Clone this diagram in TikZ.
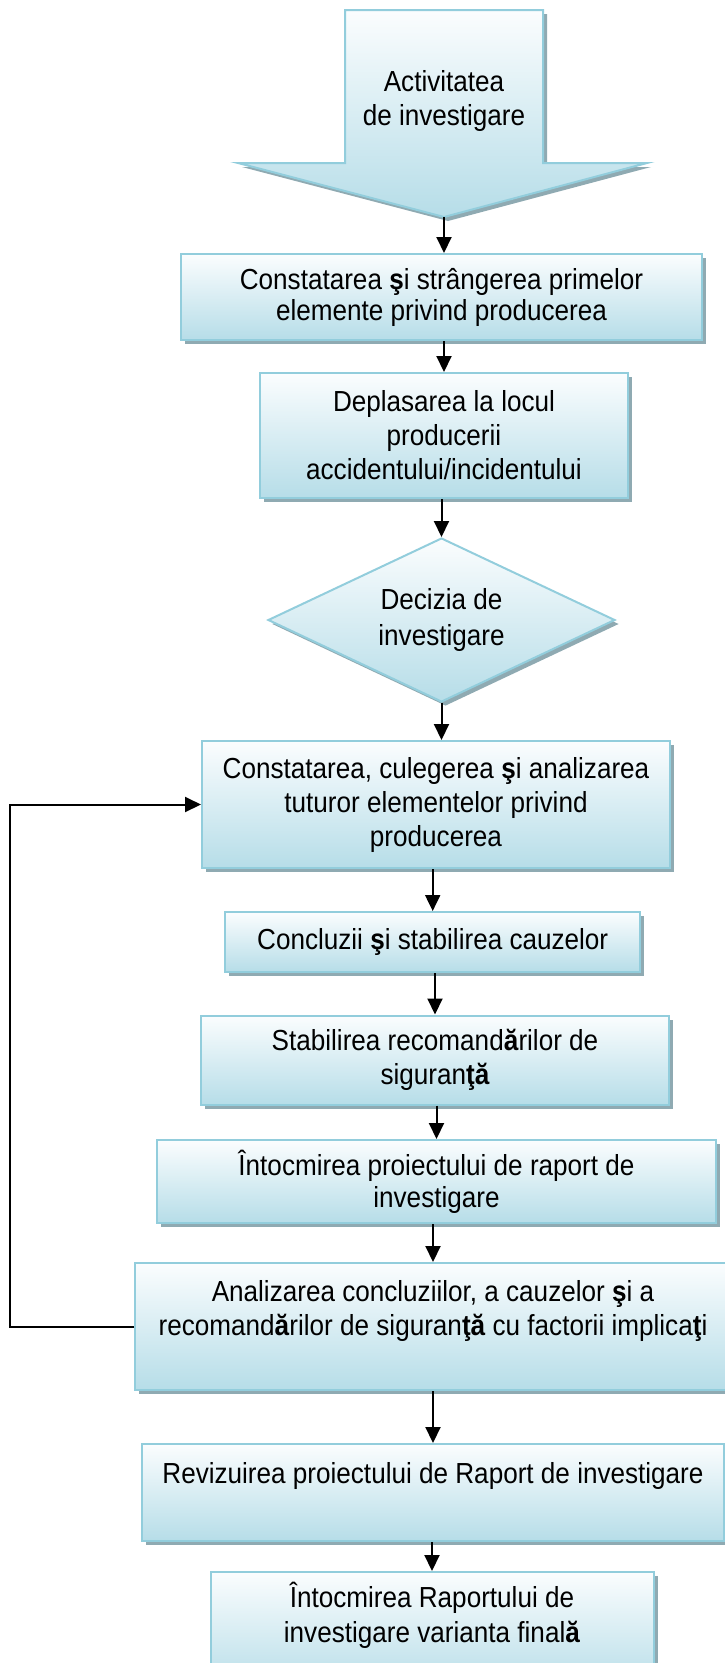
\documentclass[tikz,border=0pt]{standalone}
\usepackage{fontspec}
\setmainfont{Liberation Sans}[FakeStretch=0.9]
\usetikzlibrary{arrows.meta,shapes.geometric,shadows}
\definecolor{boxline}{RGB}{146,205,220}
\definecolor{boxtop}{RGB}{251,253,254}
\definecolor{boxbot}{RGB}{182,221,232}
\definecolor{shadowc}{RGB}{143,170,178}
\newcommand{\bs}[1]{\textbf{#1}}
\newcommand{\flowfont}[1]{\fontsize{29}{#1}\selectfont}
\begin{document}
\begin{tikzpicture}[x=1pt,y=-1pt,
  flow/.style={draw=boxline, line width=2pt, top color=boxtop, bottom color=boxbot,
    inner sep=0pt, align=center, font=\flowfont{34},
    drop shadow={shadow xshift=4pt, shadow yshift=-4pt, fill=shadowc, opacity=1}},
  txt/.style={inner sep=0pt, align=center, font=\flowfont{34}},
  conn/.style={line width=2pt, -{Triangle[length=16pt,width=15pt]}}]
\useasboundingbox (0,0) rectangle (725,1663);
\clip (0,0) rectangle (725,1663);

% big block arrow
\fill[shadowc] (349,14) -- (547,14) -- (547,167) -- (651,167) -- (448,221) -- (242,167) -- (349,167) -- cycle;
\path[draw=boxline, line width=2pt, top color=boxtop, bottom color=boxbot]
  (345,10) -- (543,10) -- (543,163) -- (647,163) -- (444,217) -- (238,163) -- (345,163) -- cycle;
\node[txt] (act) at (444,100.5) {Activitatea\\de investigare};
\coordinate (tip) at (444,217);

\node[flow, minimum width=521pt, minimum height=86pt, font=\flowfont{31}] (b1) at (441.5,297)
  {Constatarea \bs{ş}i strângerea primelor\\elemente privind producerea};
\node[flow, minimum width=368pt, minimum height=125pt] (b2) at (444,435.5)
  {Deplasarea la locul\\producerii\\accidentului/incidentului};
\node[flow, diamond, aspect=2.116, minimum width=347pt, minimum height=164pt, font=\flowfont{36}] (d) at (441.5,620)
  {Decizia de\\investigare};
\node[flow, minimum width=468pt, minimum height=127pt] (b3) at (436,804.5)
  {Constatarea, culegerea \bs{ş}i analizarea\\tuturor elementelor privind\\producerea};
\node[flow, minimum width=415.5pt, minimum height=60pt] (b4) at (432.7,942)
  {Concluzii \bs{ş}i stabilirea cauzelor};
\node[flow, minimum width=467.5pt, minimum height=89pt] (b5) at (435,1060)
  {Stabilirea recomand\bs{ă}rilor de\\siguran\bs{ţă}};
\node[flow, minimum width=559pt, minimum height=83pt, font=\flowfont{32}] (b6) at (436.5,1181.5)
  {Întocmirea proiectului de raport de\\investigare};
\node[flow, minimum width=596pt, minimum height=127pt] (b7) at (433,1326.5) {};
\node[txt] (t7) at (433,1310.5)
  {Analizarea concluziilor, a cauzelor \bs{ş}i a\\recomand\bs{ă}rilor de siguran\bs{ţă} cu factorii implica\bs{ţ}i};
\node[flow, minimum width=582pt, minimum height=97pt] (b8) at (433,1492.5) {};
\node[txt] (t8) at (433,1475.5) {Revizuirea proiectului de Raport de investigare};
\node[flow, minimum width=443pt, minimum height=118pt] (b9) at (432,1631) {};
\node[txt, font=\flowfont{35}] (t9) at (432,1615)
  {Întocmirea Raportului de\\investigare varianta final\bs{ă}};

% connectors
\draw[conn] (tip) -- (tip |- b1.north);
\draw[conn] (b1.south -| b2.north) -- (b2.north);
\draw[conn] (b2.south -| d.north) -- (d.north);
\draw[conn] (d.south) -- (d.south |- b3.north);
\draw[conn] (b3.south -| b4.north) -- (b4.north);
\draw[conn] (b4.south -| b5.north) -- (b5.north);
\draw[conn] (b5.south -| b6.north) -- (b6.north);
\draw[conn] (b6.south -| b7.north) -- (b7.north);
\draw[conn] (b7.south -| b8.north) -- (b8.north);
\draw[conn] (b8.south -| b9.north) -- (b9.north);
\coordinate (fb) at (10,0);
\draw[conn] (b7.west) -- (b7.west -| fb) |- (b3.west);
\end{tikzpicture}
\end{document}
